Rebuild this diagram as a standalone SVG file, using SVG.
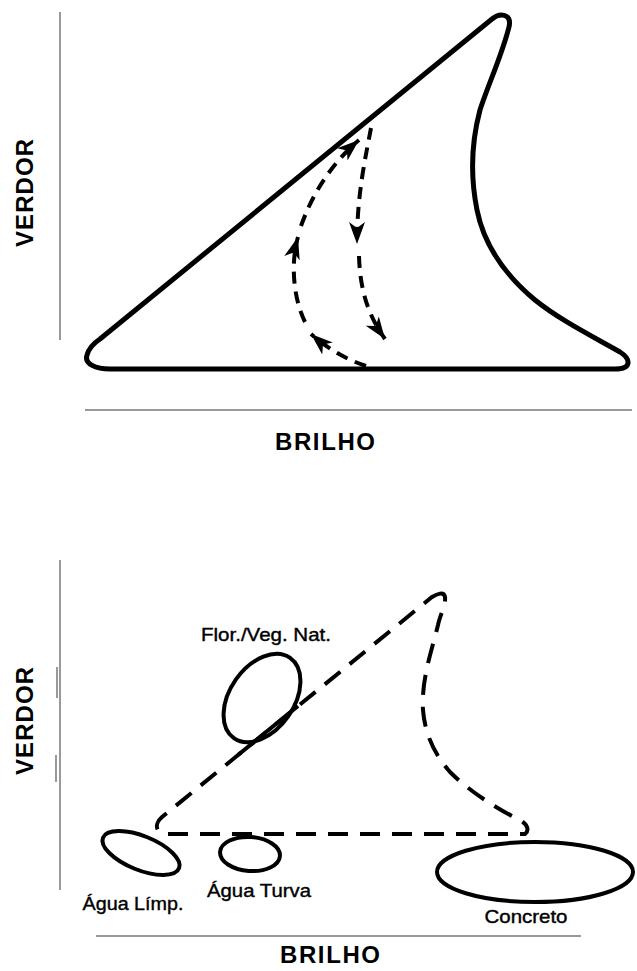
<svg xmlns="http://www.w3.org/2000/svg" width="637" height="971" viewBox="0 0 637 971">
<style>
.axis{stroke:#777;stroke-width:1.5;fill:none}
.ax-label{font-family:"Liberation Sans",Arial,sans-serif;font-weight:bold;font-size:24px;fill:#000}
.label{font-family:"Liberation Sans",Arial,sans-serif;font-size:19px;fill:#000;stroke:#000;stroke-width:0.4}
.outline{fill:none;stroke:#000;stroke-width:5;stroke-linejoin:round;stroke-linecap:round}
.flow{fill:none;stroke:#000;stroke-width:4;stroke-dasharray:12 8;stroke-linecap:butt}
.dashed{fill:none;stroke:#000;stroke-width:4;stroke-dasharray:20 12}
.cluster{fill:none;stroke:#000;stroke-width:4}
</style>
<defs>
<marker id="head" markerUnits="userSpaceOnUse" markerWidth="24" markerHeight="18" refX="22" refY="8" orient="auto">
<path d="M0,0 L22,8 L0,16 L6,8 Z" fill="#000"/>
</marker>
</defs>
<rect width="637" height="971" fill="#fff"/>

<!-- Top panel -->
<g id="top-axes">
<line class="axis" x1="60" y1="12" x2="60" y2="340"/>
<line class="axis" x1="85" y1="410" x2="632" y2="410"/>
<text class="ax-label" transform="translate(33,193) rotate(-90)" text-anchor="middle" textLength="108" lengthAdjust="spacing">VERDOR</text>
<text class="ax-label" x="325" y="450" text-anchor="middle" textLength="100" lengthAdjust="spacing">BRILHO</text>
</g>
<g id="top-outline">
<path class="outline" d="M100,339 L492,19 C500,12 512,14 509,27 C502,55 488,85 480,110 C472,140 470,175 477,210 C484,245 505,275 535,300 C560,320 590,335 620,352 C631,359 632,369 615,369 L110,369 C96,369 84,364 87,355 C89,348 94,343 100,339 Z"/>
</g>
<g id="top-flows">
<path class="flow" d="M366,366 Q336,356 311,334" marker-end="url(#head)"/>
<path class="flow" d="M305,322 C294,300 290,265 298,237" marker-end="url(#head)"/>
<path class="flow" d="M301,226 C312,195 330,165 359,140" marker-end="url(#head)"/>
<path class="flow" d="M371,128 C365,160 357,195 357,244" marker-end="url(#head)" stroke-linecap="round"/>
<path class="flow" d="M359,256 C360,290 368,315 385,339" marker-end="url(#head)"/>
</g>

<!-- Bottom panel -->
<g id="bottom-axes">
<line class="axis" x1="60" y1="560" x2="60" y2="890"/>
<line class="axis" x1="57" y1="667" x2="57" y2="698"/>
<line class="axis" x1="56" y1="755" x2="56" y2="782"/>
<line class="axis" x1="96" y1="936" x2="581" y2="936"/>
<text class="ax-label" transform="translate(33,721) rotate(-90)" text-anchor="middle" textLength="108" lengthAdjust="spacing">VERDOR</text>
<text class="ax-label" x="330" y="963" text-anchor="middle" textLength="100" lengthAdjust="spacing">BRILHO</text>
</g>
<g id="bottom-outline">
<path class="dashed" d="M432,597 C437,594 444,591 445,597 C446,605 440,615 438,625 C432,650 421,680 423,710 C425,735 435,755 450,772 C468,790 495,808 520,820 C527,824 530,830 525,834 L168,834 C155,834 154,824 162,817 Z"/>
<line x1="238" y1="755" x2="298" y2="706" stroke="#000" stroke-width="4"/>
</g>
<g id="flor">
<ellipse class="cluster" cx="262" cy="698" rx="49" ry="32" transform="rotate(-55 262 698)"/>
<text class="label" x="266" y="641" text-anchor="middle" textLength="130" lengthAdjust="spacingAndGlyphs">Flor./Veg. Nat.</text>
</g>
<g id="agua-limpa">
<ellipse class="cluster" cx="141" cy="853" rx="41" ry="17" transform="rotate(22 141 853)"/>
<text class="label" x="133" y="910" text-anchor="middle" textLength="101" lengthAdjust="spacingAndGlyphs">Água Límp.</text>
</g>
<g id="agua-turva">
<ellipse class="cluster" cx="250" cy="854" rx="30" ry="17" transform="rotate(4 250 854)"/>
<text class="label" x="259" y="897" text-anchor="middle" textLength="104" lengthAdjust="spacingAndGlyphs">Água Turva</text>
</g>
<g id="concreto">
<ellipse class="cluster" cx="535" cy="872" rx="98" ry="30"/>
<text class="label" x="526" y="923" text-anchor="middle" textLength="83" lengthAdjust="spacingAndGlyphs">Concreto</text>
</g>
</svg>
